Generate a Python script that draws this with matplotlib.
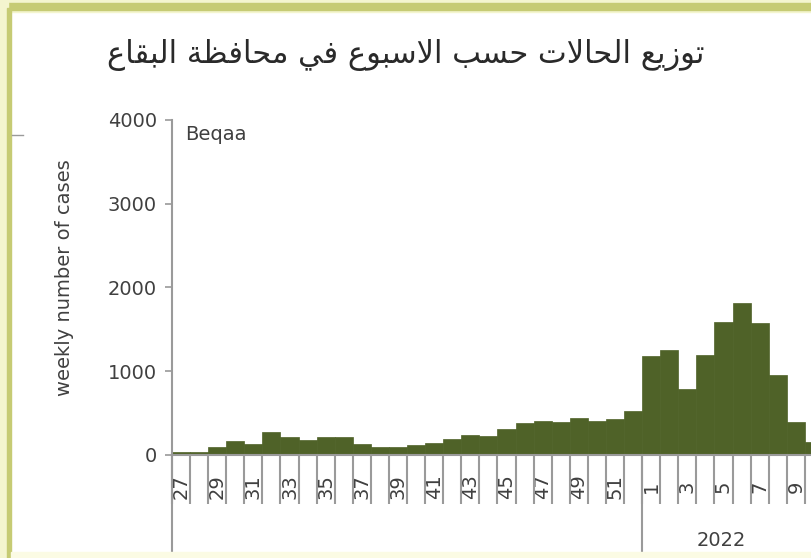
import matplotlib.pyplot as plt
from matplotlib.lines import Line2D
from matplotlib.patches import Rectangle
import matplotlib.transforms as mtransforms

# weekly cases, Beqaa (weeks 27-52 of 2021, then weeks 1-10 of 2022)
weeks = ['27', '28', '29', '30', '31', '32', '33', '34', '35', '36', '37', '38', '39',
         '40', '41', '42', '43', '44', '45', '46', '47', '48', '49', '50', '51', '52',
         '1', '2', '3', '4', '5', '6', '7', '8', '9', '10']
cases = [40, 40, 90, 165, 135, 270, 210, 180, 210, 210, 130, 100, 100,
         120, 147, 187, 243, 227, 306, 382, 406, 394, 442, 406, 426, 520,
         1182, 1250, 792, 1190, 1592, 1815, 1580, 951, 398, 159]
title_ar = 'توزيع الحالات حسب الاسبوع في محافظة البقاع'
year_label = '2022'

# matplotlib has no arabic shaping, so pick presentation forms by hand
FORMS = {  # isolated, final, initial, medial
    'ا': ('\uFE8D', '\uFE8E', None, None),
    'ب': ('\uFE8F', '\uFE90', '\uFE91', '\uFE92'),
    'ة': ('\uFE93', '\uFE94', None, None),
    'ت': ('\uFE95', '\uFE96', '\uFE97', '\uFE98'),
    'ح': ('\uFEA1', '\uFEA2', '\uFEA3', '\uFEA4'),
    'ز': ('\uFEAF', '\uFEB0', None, None),
    'س': ('\uFEB1', '\uFEB2', '\uFEB3', '\uFEB4'),
    'ظ': ('\uFEC5', '\uFEC6', '\uFEC7', '\uFEC8'),
    'ع': ('\uFEC9', '\uFECA', '\uFECB', '\uFECC'),
    'ف': ('\uFED1', '\uFED2', '\uFED3', '\uFED4'),
    'ق': ('\uFED5', '\uFED6', '\uFED7', '\uFED8'),
    'ل': ('\uFEDD', '\uFEDE', '\uFEDF', '\uFEE0'),
    'م': ('\uFEE1', '\uFEE2', '\uFEE3', '\uFEE4'),
    'و': ('\uFEED', '\uFEEE', None, None),
    'ي': ('\uFEF1', '\uFEF2', '\uFEF3', '\uFEF4'),
    'لا': ('\uFEFB', '\uFEFC', None, None),
}


def shape(text):
    out = []
    for word in text.split(' '):
        letters = []
        i = 0
        while i < len(word):
            if word[i] == 'ل' and i + 1 < len(word) and word[i + 1] == 'ا':
                letters.append('لا')
                i += 2
            else:
                letters.append(word[i])
                i += 1
        res = []
        for k, ch in enumerate(letters):
            f = FORMS[ch]
            prev_joins = k > 0 and FORMS[letters[k - 1]][2] is not None
            next_joins = f[2] is not None and k + 1 < len(letters)
            if prev_joins and next_joins:
                res.append(f[3])
            elif prev_joins:
                res.append(f[1])
            elif next_joins:
                res.append(f[2])
            else:
                res.append(f[0])
        out.append(''.join(res))
    return ' '.join(out)[::-1]


grey = '#9a9a9a'
txt = '#404040'
bar_col = '#4f6228'

fig = plt.figure(figsize=(8.11, 5.58), dpi=100)
fig.patch.set_facecolor('white')

# yellow frame of the screenshot
fig.patches.append(Rectangle((0, 0.978), 1, 0.022, transform=fig.transFigure, color='#f4f5cf', zorder=0))
fig.patches.append(Rectangle((0, 0.982), 1, 0.012, transform=fig.transFigure, color='#c6cb74', zorder=0))
fig.patches.append(Rectangle((0, 0), 0.010, 1, transform=fig.transFigure, color='#f4f5cf', zorder=0))
fig.patches.append(Rectangle((0.009, 0), 0.005, 0.985, transform=fig.transFigure, color='#c6cb74', zorder=0))
fig.patches.append(Rectangle((0.014, 0), 0.986, 0.01, transform=fig.transFigure, color='#fbfbe4', zorder=0))
fig.lines.append(Line2D([0.015, 0.028], [0.758, 0.758], transform=fig.transFigure, color=grey, lw=1))

ax = fig.add_axes([0.2121, 0.1846, 0.7879, 0.6004])
x = list(range(len(weeks)))
ax.bar(x, cases, width=1.0, color=bar_col, edgecolor=bar_col, linewidth=0.5)

ax.set_xlim(-0.5, 34.84)
ax.set_ylim(0, 4000)
ax.set_yticks([0, 1000, 2000, 3000, 4000])
ax.set_yticklabels(['0', '1000', '2000', '3000', '4000'])
ax.tick_params(axis='y', direction='out', length=5, width=1.2, color=grey,
               labelsize=14, labelcolor=txt, pad=6)

# every other week is labelled, a tick between every week
ax.set_xticks(x[::2])
ax.set_xticklabels(weeks[::2], rotation=90, va='center')
ax.set_xticks([i - 0.5 for i in x], minor=True)
ax.tick_params(axis='x', which='major', length=0, pad=23, labelsize=14, labelcolor=txt)
ax.tick_params(axis='x', which='minor', direction='out', length=35, width=1.5, color=grey)

for s in ['top', 'right']:
    ax.spines[s].set_visible(False)
for s in ['left', 'bottom']:
    ax.spines[s].set_color(grey)
    ax.spines[s].set_linewidth(1.5)

# long lines of the year grouping
tr = mtransforms.blended_transform_factory(ax.transData, ax.transAxes)
for xb in [-0.5, 25.5]:
    ax.add_line(Line2D([xb, xb], [0, -0.30], transform=tr, color=grey, lw=1.5, clip_on=False))
ax.text(29.9, -0.255, year_label, transform=tr, ha='center', va='center', fontsize=14, color=txt)

ax.text(0.02, 0.985, 'Beqaa', transform=ax.transAxes, ha='left', va='top', fontsize=14, color=txt)
fig.text(0.080, 0.503, 'weekly number of cases', rotation=90, ha='center', va='center',
         fontsize=14, color=txt)
fig.text(0.5, 0.901, shape(title_ar), ha='center', va='center', fontsize=22, color='#2a2a2a',
         family='DejaVu Sans')

fig.savefig('out.png', dpi=100)
